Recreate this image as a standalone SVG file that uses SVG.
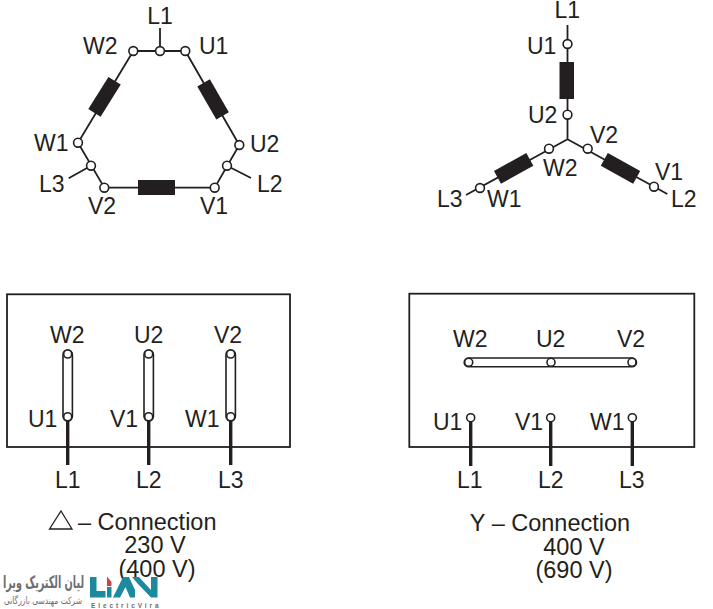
<svg xmlns="http://www.w3.org/2000/svg" width="713" height="609" viewBox="0 0 713 609">
<style>
text{font-family:"Liberation Sans",Arial,sans-serif;font-size:23px;fill:#231f20}
.m{text-anchor:middle}
.c{font-size:23.5px}
.w{fill:none;stroke:#231f20;stroke-width:1.8}
.t{fill:#fff;stroke:#231f20;stroke-width:1.6}
.k{fill:#231f20}
.h{stroke:#231f20;stroke-width:3.4;fill:none}
.s{fill:#fff;stroke:#231f20;stroke-width:1.6}
.logo{fill:#1b8a9e}
.fa{font-family:"DejaVu Sans","Noto Sans",sans-serif;fill:#6d6e71}
.lt{font-size:6.5px;font-weight:bold;letter-spacing:2.9px;fill:#6d6e71}
</style>
<g id="connectors">
<path class="w" d="M133.3 51H185.3L239.3 145L214.7 187.7H104.3L78 142.7L133.3 51M160 51V28M91 165.7L68.7 178.3M227 165.7L251 178"/>
<path class="w" d="M567.5 25V139.3M567.5 139.3L466 195M567.5 139.3L667.3 194"/>
</g>
<g id="delta-coils">
<rect class="k" x="85.3" y="89.7" width="38" height="14.5" transform="rotate(-58 104.3 96.7)"/>
<rect class="k" x="194.3" y="92.3" width="38" height="14.5" transform="rotate(60 213.3 99.3)"/>
<rect class="k" x="138" y="180" width="37" height="15"/>
</g>
<g id="star-coils">
<rect class="k" x="559.5" y="62" width="14.5" height="37"/>
<rect class="k" x="495" y="161" width="37" height="14.5" transform="rotate(-29 513.7 168)"/>
<rect class="k" x="602" y="161" width="37" height="14.5" transform="rotate(29 620.3 168.3)"/>
</g>
<g id="delta-terminals">
<circle class="t" cx="133.3" cy="51" r="4.4"/><circle class="t" cx="160" cy="51" r="4.4"/><circle class="t" cx="185.3" cy="51" r="4.4"/>
<circle class="t" cx="78" cy="142.7" r="4.4"/><circle class="t" cx="91" cy="165.7" r="4.4"/><circle class="t" cx="104.3" cy="187.7" r="4.4"/>
<circle class="t" cx="214.7" cy="187.7" r="4.4"/><circle class="t" cx="227" cy="165.7" r="4.4"/><circle class="t" cx="239.3" cy="145" r="4.4"/>
</g>
<g id="star-terminals">
<circle class="t" cx="567.5" cy="44" r="4.4"/><circle class="t" cx="567.5" cy="114.7" r="4.4"/>
<circle class="t" cx="549" cy="148.7" r="4.4"/><circle class="t" cx="480" cy="188" r="4.4"/>
<circle class="t" cx="587.7" cy="148.7" r="4.4"/><circle class="t" cx="654" cy="186.7" r="4.4"/>
</g>
<g id="delta-labels">
<text class="m" x="160" y="23.5">L1</text><text x="83" y="53.5">W2</text><text x="199" y="53.5">U1</text>
<text x="34" y="150.5">W1</text><text x="250" y="151.5">U2</text><text x="39" y="191.5">L3</text><text x="257" y="191.5">L2</text>
<text x="88" y="214">V2</text><text x="200" y="214">V1</text>
</g>
<g id="star-labels">
<text x="554.500" y="18">L1</text><text x="527" y="54">U1</text><text x="528" y="122.5">U2</text>
<text x="590" y="143">V2</text><text x="543" y="175.5">W2</text><text x="655" y="180">V1</text>
<text x="437" y="206.5">L3</text><text x="487" y="207">W1</text><text x="671" y="206.5">L2</text>
</g>
<g id="delta-box">
<rect class="w" x="7" y="294.3" width="283" height="152.7"/>
<rect class="s" x="63" y="350" width="9.4" height="71" rx="4.7"/><rect class="s" x="144" y="350" width="9.4" height="71" rx="4.7"/><rect class="s" x="226" y="350" width="9.4" height="71" rx="4.7"/>
<path class="h" d="M67.7 419V465M148.7 419V465M230.7 419V465"/>
<circle class="t" cx="67.7" cy="354" r="4"/><circle class="t" cx="67.7" cy="416.7" r="4"/>
<circle class="t" cx="148.7" cy="354" r="4"/><circle class="t" cx="148.7" cy="416.7" r="4"/>
<circle class="t" cx="230.7" cy="354" r="4"/><circle class="t" cx="230.7" cy="416.7" r="4"/>
<text x="50" y="342.5">W2</text><text x="134" y="342.5">U2</text><text x="214" y="342.5">V2</text>
<text x="28" y="427">U1</text><text x="110" y="427">V1</text><text x="185" y="427">W1</text>
<text x="55" y="488">L1</text><text x="136" y="488">L2</text><text x="218" y="488">L3</text>
</g>
<g id="star-box">
<rect class="w" x="409.3" y="293.7" width="285" height="153.3"/>
<rect class="s" x="464.2" y="358" width="172.3" height="8.8" rx="4.4"/>
<path class="h" d="M470.7 420V466M550.7 420V466M632.3 420V466"/>
<circle class="t" cx="468.7" cy="362.3" r="4"/><circle class="t" cx="551" cy="362.3" r="4"/><circle class="t" cx="632" cy="362.3" r="4"/>
<circle class="t" cx="470.7" cy="417.7" r="4"/><circle class="t" cx="550.7" cy="417.7" r="4"/><circle class="t" cx="632.3" cy="417.7" r="4"/>
<text x="453" y="346.5">W2</text><text x="536" y="346.5">U2</text><text x="617" y="346.5">V2</text>
<text x="433" y="430">U1</text><text x="515" y="430">V1</text><text x="590" y="430">W1</text>
<text x="457" y="488">L1</text><text x="538" y="488">L2</text><text x="619" y="488">L3</text>
</g>
<g id="captions">
<path fill="none" stroke="#231f20" stroke-width="1.3" d="M61 511L72 529H49.5Z"/>
<text class="c" x="78" y="530">– Connection</text>
<text class="c m" x="155" y="553">230 V</text>
<text class="c m" x="157" y="577">(400 V)</text>
<text class="c m" x="550" y="531">Y – Connection</text>
<text class="c m" x="574" y="555">400 V</text>
<text class="c m" x="574" y="578">(690 V)</text>
</g>
<g id="logo">
<text class="fa" x="3" y="588" style="font-size:17px;font-weight:bold" textLength="81" lengthAdjust="spacingAndGlyphs">لیان الکتریک ویرا</text>
<text class="fa" x="4" y="604" style="font-size:10px" textLength="78" lengthAdjust="spacingAndGlyphs">شرکت مهندسی بازرگانی</text>
<path class="logo" d="M90 577H96.500V591H105.500V597.500H90Z"/>
<path fill="#c8434a" d="M107 576.500L111.500 582V586H107Z"/>
<path class="logo" d="M107 587H111.500V597.500H107Z"/>
<path class="logo" d="M113 597.500L123 577H129L135 590V597.500H130L125.500 587L120 597.500Z"/>
<path class="logo" d="M132 577H139L151 590V577H157.500V597.500H151L138 584Z"/>
<text class="lt" x="91" y="608">ElectricVira</text>
</g>
</svg>
